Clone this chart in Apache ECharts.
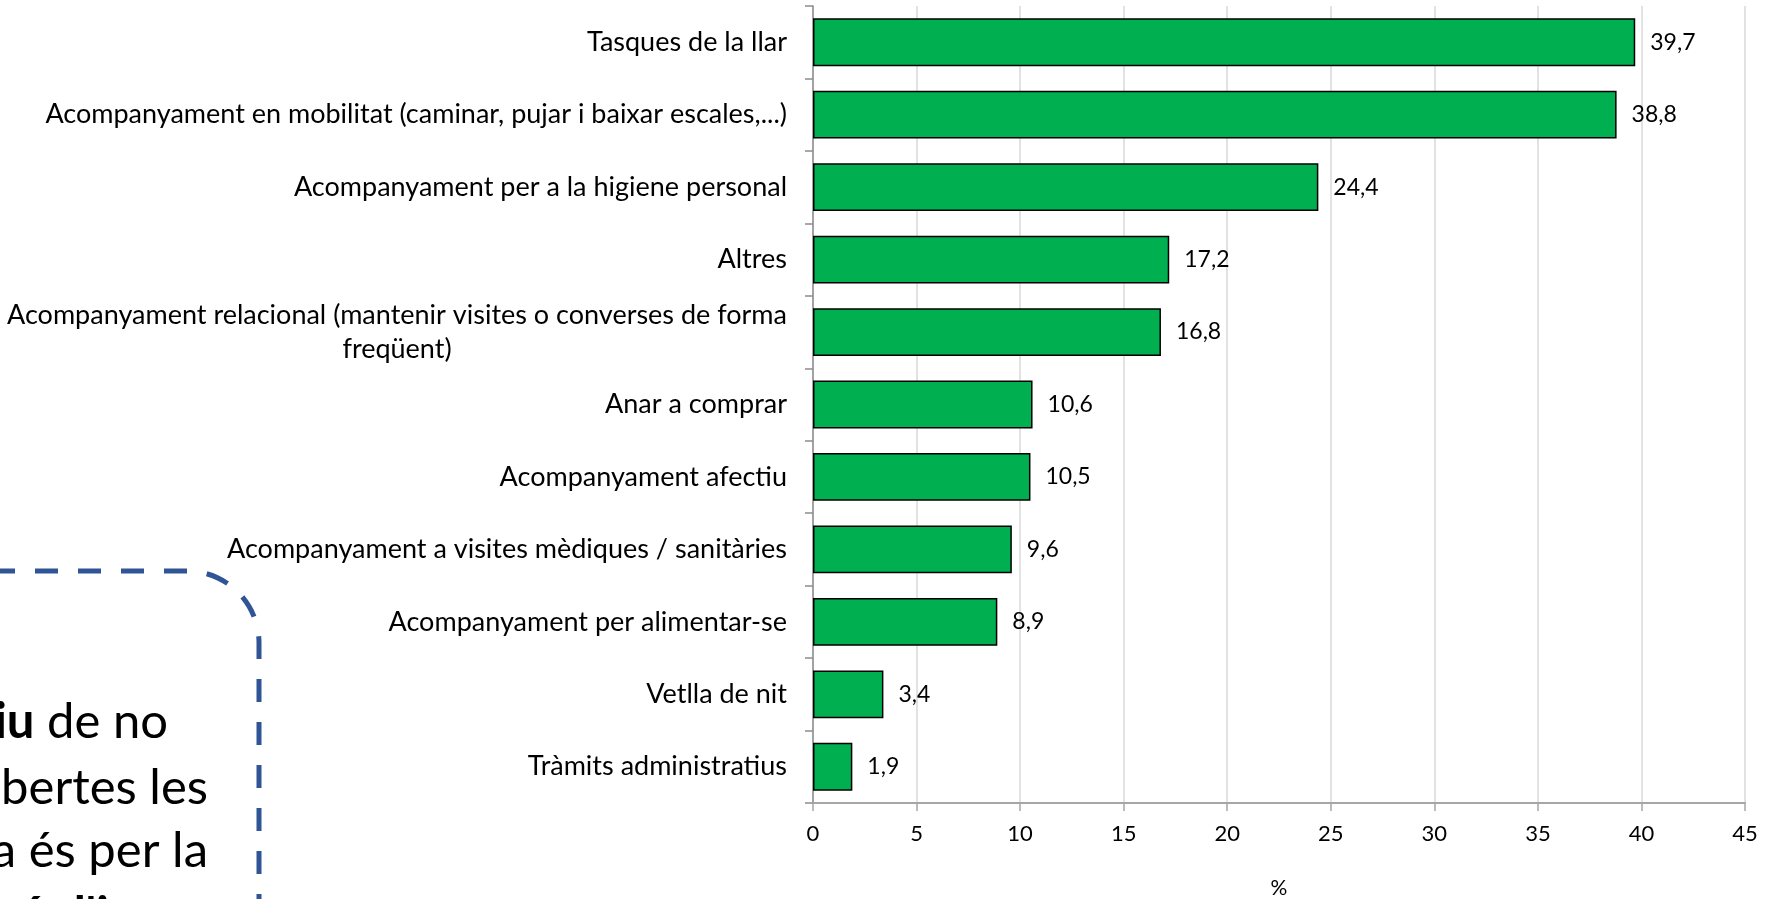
<!DOCTYPE html>
<html>
<head>
<meta charset="utf-8">
<script src="https://cdn.jsdelivr.net/npm/echarts@6/dist/echarts.min.js"></script>
<style>
html,body{margin:0;padding:0;background:#fff;}
#chart{width:1778px;height:899px;}
</style>
</head>
<body>
<div id="chart"></div>
<script>
const categories = [
  'Tasques de la llar',
  'Acompanyament en mobilitat (caminar, pujar i baixar escales,...)',
  'Acompanyament per a la higiene personal',
  'Altres',
  'Acompanyament relacional (mantenir visites o converses de forma\nfreqüent)',
  'Anar a comprar',
  'Acompanyament afectiu',
  'Acompanyament a visites mèdiques / sanitàries',
  'Acompanyament per alimentar-se',
  'Vetlla de nit',
  'Tràmits administratius'
];
const values = [39.7, 38.8, 24.4, 17.2, 16.8, 10.6, 10.5, 9.6, 8.9, 3.4, 1.9];
const xMin = 0, xMax = 45, xInterval = 5;
const axisTitle = '%';
const noteLines = [
  {text: '{b|iu} de no'},
  {text: 'bertes les'},
  {text: 'a és per la'},
  {text: "{b|ó d'ingressos}"}
];

const FONT = 'Lato';
const chart = echarts.init(document.getElementById('chart'), null, {renderer: 'canvas'});
const option = {
  backgroundColor: '#ffffff',
  animation: false,
  textStyle: {fontFamily: FONT, color: '#000'},
  grid: {left: 813, right: 33, top: 6, bottom: 96, containLabel: false, outerBoundsMode: 'none'},
  xAxis: {
    type: 'value', min: xMin, max: xMax, interval: xInterval,
    name: axisTitle, nameLocation: 'middle', nameGap: 75,
    nameTextStyle: {fontFamily: FONT, fontSize: 21, color: '#000'},
    axisLine: {show: true, lineStyle: {color: '#A6A6A6', width: 2}},
    axisTick: {show: true, length: 8, lineStyle: {color: '#A6A6A6', width: 1.5}},
    axisLabel: {fontFamily: FONT, fontSize: 22, color: '#000', margin: 20},
    splitLine: {show: true, lineStyle: {color: '#D9D9D9', width: 1.5}}
  },
  yAxis: {
    type: 'category', data: categories, inverse: true,
    axisLine: {show: true, lineStyle: {color: '#8C8C8C', width: 1.5}},
    axisTick: {show: true, length: 8, alignWithLabel: false, lineStyle: {color: '#8C8C8C', width: 1.5}},
    axisLabel: {
      fontFamily: FONT, fontSize: 27, color: '#000', margin: 26, lineHeight: 34,
      formatter: function (v) {
        return v.split('\n').map(s => '{c|' + s + '}').join('\n');
      },
      rich: {c: {align: 'center', fontFamily: FONT, fontSize: 27, lineHeight: 34, color: '#000'}}
    },
    splitLine: {show: false}
  },
  series: [{
    type: 'bar', data: values, barCategoryGap: '34%',
    itemStyle: {color: '#00B050', borderColor: '#000', borderWidth: 1.5},
    label: {
      show: true, position: 'right', distance: 15,
      fontFamily: FONT, fontSize: 23, color: '#000',
      formatter: p => String(p.value).replace('.', ',')
    }
  }],
  graphic: [
    {
      type: 'rect', silent: true,
      shape: {x: -80, y: 571, width: 339, height: 520, r: 72},
      style: {fill: 'none', stroke: '#2F5597', lineWidth: 5, lineDash: [23, 20]}
    },
    {type: 'text', x: 168, y: 722, style: {text: noteLines[0].text, align: 'right', verticalAlign: 'middle', font: '49px Lato', fill: '#000', rich: {b: {fontWeight: 'bold', fontSize: 49, fontFamily: FONT}}}},
    {type: 'text', x: 208, y: 788, style: {text: noteLines[1].text, align: 'right', verticalAlign: 'middle', font: '49px Lato', fill: '#000'}},
    {type: 'text', x: 208, y: 851, style: {text: noteLines[2].text, align: 'right', verticalAlign: 'middle', font: '49px Lato', fill: '#000'}},
    {type: 'text', x: 18, y: 916, style: {text: noteLines[3].text, align: 'left', verticalAlign: 'middle', font: '49px Lato', fill: '#000', rich: {b: {fontWeight: 'bold', fontSize: 49, fontFamily: FONT}}}}
  ]
};
chart.setOption(option);
</script>
</body>
</html>
